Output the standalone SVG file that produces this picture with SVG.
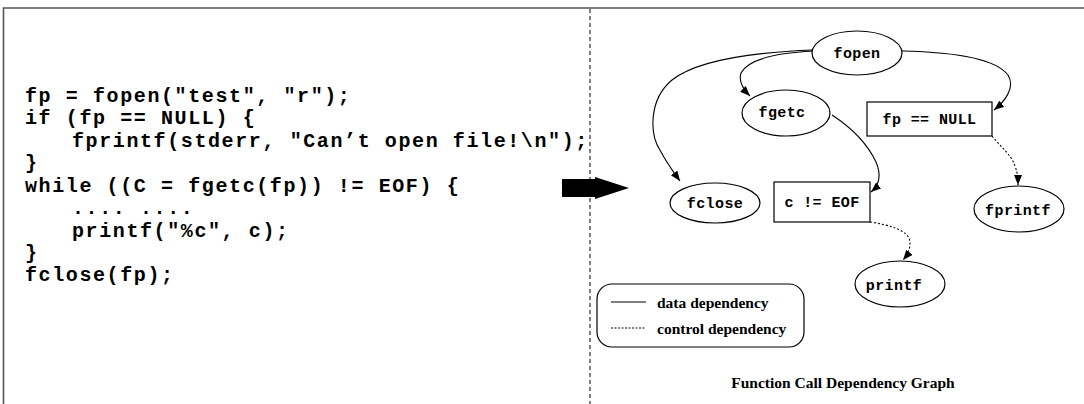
<svg xmlns="http://www.w3.org/2000/svg" width="1084" height="404" viewBox="0 0 1084 404">
<style>
.code{font-family:"Liberation Mono","Courier New",monospace;font-weight:bold;font-size:20px;letter-spacing:1.6px;fill:#000;white-space:pre}
.node ellipse,.node rect{fill:#fff;stroke:#000;stroke-width:1.2}
.node text{font-family:"Liberation Mono","Courier New",monospace;font-weight:bold;font-size:15px;letter-spacing:0.4px;fill:#000;text-anchor:middle}
.edge{fill:none;stroke:#000;stroke-width:1.1}
.ctrl{stroke-dasharray:2 2}
.leg{font-family:"Liberation Serif","Times New Roman",serif;font-weight:bold;font-size:15.5px;fill:#000}
</style>
<defs>
<marker id="ah" markerUnits="userSpaceOnUse" markerWidth="12" markerHeight="10" refX="10" refY="4" orient="auto">
<path d="M0,0 L10,4 L0,8 Z" fill="#000"/>
</marker>
</defs>
<rect width="1084" height="404" fill="#fff"/>
<g id="frame">
<path d="M3.5,404 V8 H1084" fill="none" stroke="#555" stroke-width="1.6"/>
<line x1="590" y1="9" x2="590" y2="404" stroke="#000" stroke-width="1" stroke-dasharray="4 3"/>
</g>
<g id="code" xml:space="preserve">
<text class="code" x="25" y="102">fp = fopen("test", "r");</text>
<text class="code" x="25" y="124">if (fp == NULL) {</text>
<text class="code" x="72" y="147">fprintf(stderr, "Can’t open file!\n");</text>
<text class="code" x="25" y="169">}</text>
<text class="code" x="25" y="192">while ((C = fgetc(fp)) != EOF) {</text>
<text class="code" x="72" y="214">.... ....</text>
<text class="code" x="72" y="237">printf("%c", c);</text>
<text class="code" x="25" y="259">}</text>
<text class="code" x="25" y="281">fclose(fp);</text>
</g>
<g id="big-arrow">
<polygon points="562,179 595,179 595,177 629,188 595,199 595,197 562,197" fill="#000"/>
</g>
<g id="connectors">
<path class="edge" d="M813,50 C760,52 700,58 672,80 C648,100 650,135 660,150 C666,162 672,170 680,181" marker-end="url(#ah)"/>
<path class="edge" d="M813,51 C775,53 748,60 741,73 C738,82 744,90 750,96" marker-end="url(#ah)"/>
<path class="edge" d="M902,51 C950,52 995,58 1008,75 C1016,88 1004,102 994,110" marker-end="url(#ah)"/>
<path class="edge" d="M832,115 C852,128 868,145 876,162 C882,176 878,186 871,192" marker-end="url(#ah)"/>
<path class="edge ctrl" d="M992,136 C1002,148 1012,156 1015,166 C1018,174 1018,180 1018,185" marker-end="url(#ah)"/>
<path class="edge ctrl" d="M870,222 C890,225 905,230 909,238 C912,246 908,254 903,260" marker-end="url(#ah)"/>
</g>
<g id="n-fopen" class="node"><ellipse cx="857" cy="53" rx="45" ry="22"/><text x="857" y="58">fopen</text></g>
<g id="n-fgetc" class="node"><ellipse cx="786" cy="113" rx="44" ry="23"/><text x="782" y="117">fgetc</text></g>
<g id="n-fpnull" class="node"><rect x="867" y="102" width="125" height="34"/><text x="929.5" y="124">fp == NULL</text></g>
<g id="n-fclose" class="node"><ellipse cx="715" cy="203" rx="45" ry="20"/><text x="715" y="208">fclose</text></g>
<g id="n-ceof" class="node"><rect x="774" y="182" width="96" height="40"/><text x="822" y="207">c != EOF</text></g>
<g id="n-fprintf" class="node"><ellipse cx="1019" cy="209" rx="45" ry="23"/><text x="1018" y="215">fprintf</text></g>
<g id="n-printf" class="node"><ellipse cx="900" cy="284" rx="45" ry="23"/><text x="894" y="290">printf</text></g>
<g id="legend">
<rect x="597" y="284" width="207" height="63" rx="15" ry="15" fill="#fff" stroke="#000" stroke-width="1.2"/>
<line x1="611" y1="302" x2="646" y2="302" stroke="#000" stroke-width="1.1"/>
<line x1="611" y1="328" x2="645" y2="328" stroke="#000" stroke-width="1.1" stroke-dasharray="2 1.5"/>
<text class="leg" x="657" y="308">data dependency</text>
<text class="leg" x="657" y="334">control dependency</text>
</g>
<g id="title">
<text class="leg" x="843" y="388" text-anchor="middle">Function Call Dependency Graph</text>
</g>
</svg>
